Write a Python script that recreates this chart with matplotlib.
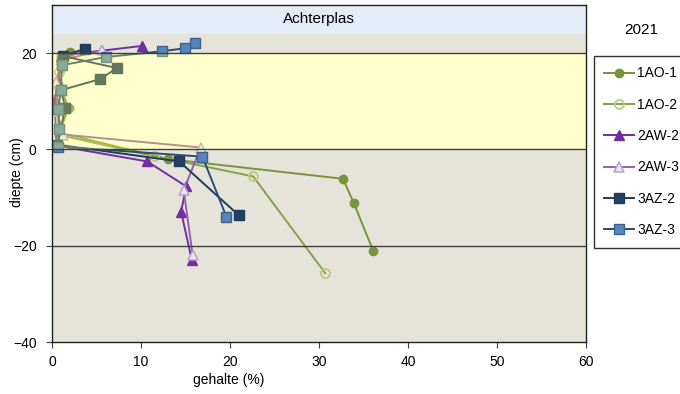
import matplotlib
matplotlib.use("Agg")
import matplotlib.pyplot as plt

plt.rcParams['font.family'] = ['Liberation Sans', 'DejaVu Sans']

# depth profiles: gehalte (%) against diepte (cm)
ao1_x = [2.0, 1.0, 0.6, 1.9, 0.8, 13.0, 32.7, 33.9, 36.1]
ao1_y = [20.2, 17.0, 14.0, 8.7, 3.5, -2.0, -6.1, -11.1, -21.1]
ao2_x = [1.0, 0.8, 0.5, 0.7, 0.8, 11.5, 22.6, 30.7]
ao2_y = [19.5, 16.0, 12.0, 8.0, 3.0, -1.4, -5.6, -25.7]
aw2_x = [10.1, 1.0, 0.7, 0.3, 0.5, 10.7, 15.1, 14.5, 15.7]
aw2_y = [21.5, 19.5, 14.2, 10.4, 0.8, -2.5, -7.7, -12.9, -22.9]
aw3_x = [5.6, 1.0, 0.5, 0.6, 1.2, 16.7, 14.8, 15.8]
aw3_y = [20.6, 18.5, 14.0, 8.0, 3.1, 0.4, -8.5, -21.9]
az2_x = [3.7, 1.2, 7.3, 5.4, 1.0, 1.5, 0.6, 14.3, 21.0]
az2_y = [20.9, 19.4, 16.9, 14.6, 12.3, 8.7, 1.0, -2.5, -13.7]
az3_x = [16.1, 14.9, 12.4, 6.1, 1.1, 1.0, 0.7, 0.8, 0.7, 16.9, 19.6]
az3_y = [22.1, 21.0, 20.4, 19.2, 17.5, 12.3, 8.3, 4.3, 0.6, -1.5, -14.0]

x_ticks = [0, 10, 20, 30, 40, 50, 60]
y_ticks = [-40, -20, 0, 20]

fig = plt.figure(figsize=(6.8, 3.94), dpi=100)
ax = fig.add_axes([52 / 680, 1 - 342 / 394, 534 / 680, 337 / 394])
ax.set_facecolor('#E6E4DA')

# white under the yellow band, the band itself is laid over the lines
ax.axhspan(0, 20, color='white', zorder=0, lw=0)
ax.axhspan(24, 30, color='#E4ECF7', zorder=0, lw=0)

series = [
    (ao1_x, ao1_y, '1AO-1', dict(color='#77933C', marker='o', ms=6, mfc='#77933C', mec='#77933C')),
    (ao2_x, ao2_y, '1AO-2', dict(color='#86A044', marker='o', ms=6.5, mfc='none', mec='#B5CB84', mew=1.3)),
    (aw2_x, aw2_y, '2AW-2', dict(color='#7030A0', marker='^', ms=7, mfc='#7030A0', mec='#7030A0')),
    (aw3_x, aw3_y, '2AW-3', dict(color='#9060B0', marker='^', ms=7, mfc='#EDE6F2', mec='#B3A2C7', mew=1.1)),
    (az2_x, az2_y, '3AZ-2', dict(color='#1F3A5A', marker='s', ms=7, mfc='#243F60', mec='#1F3A5A')),
    (az3_x, az3_y, '3AZ-3', dict(color='#2B4C6F', marker='s', ms=7, mfc='#5585BB', mec='#3A6392')),
]
handles = []
for xs, ys, name, style in series:
    h, = ax.plot(xs, ys, lw=1.4, label=name, zorder=3, **style)
    handles.append(h)

ax.axhspan(0, 20, color='#FFFF55', alpha=0.3, zorder=5, lw=0)
for yv in [20, 0, -20]:
    ax.axhline(yv, color='#404040', lw=1.0, zorder=6)

ax.set_xlim(0, 60)
ax.set_ylim(-40, 30)
ax.set_xticks(x_ticks)
ax.set_yticks(y_ticks)
ax.tick_params(labelsize=10, length=4, color='#404040')
ax.tick_params(axis='y', pad=7)
ax.tick_params(axis='x', pad=5)
for sp in ax.spines.values():
    sp.set_color('#202020')
    sp.set_linewidth(1.0)
    sp.set_zorder(7)

ax.text(30, 27.1, 'Achterplas', ha='center', va='center', fontsize=11, zorder=8)
fig.text(229 / 680, 1 - 380 / 394, 'gehalte (%)', ha='center', va='center', fontsize=10)
fig.text(17 / 680, 1 - 172 / 394, 'diepte (cm)', ha='center', va='center', rotation=90, fontsize=10)
fig.text(641 / 680, 1 - 30 / 394, '2021', ha='center', va='center', fontsize=11)

leg = fig.legend(handles=handles, loc='upper left', bbox_to_anchor=(594 / 680, 1 - 56 / 394),
                 frameon=True, fancybox=False, fontsize=10, handlelength=2.1,
                 labelspacing=1.25, borderaxespad=0, borderpad=0.75, handletextpad=0.25)
leg.get_frame().set_edgecolor('black')
leg.get_frame().set_linewidth(1.0)

fig.savefig('out.png', dpi=100)
